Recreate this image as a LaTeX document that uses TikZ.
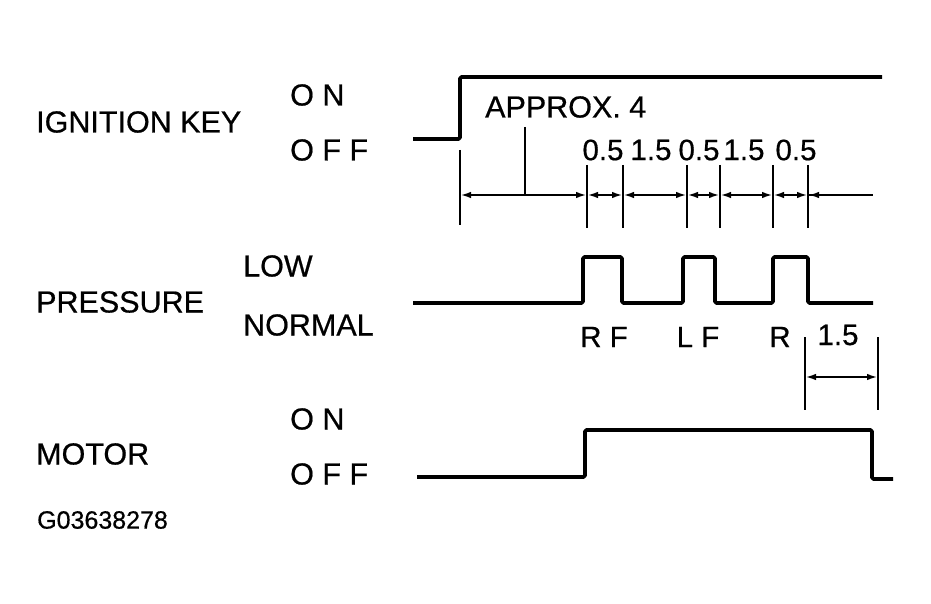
\documentclass[tikz,border=0pt]{standalone}
\usepackage{fontspec}
\setmainfont{Liberation Sans}[FakeBold=0.6]
\usetikzlibrary{arrows, arrows.meta}
\tikzset{wave/.style={line width=3.8pt, line join=round, rounded corners=1.5pt},
  dim/.style={line width=2.4pt, {Latex[length=11pt,width=6.5pt]}-{Latex[length=11pt,width=6.5pt]}},
  tick/.style={line width=2.6pt},
  lbl/.style={anchor=west, inner sep=0pt, font=\fontsize{30.5}{34}\selectfont},
  num/.style={inner sep=0pt, font=\fontsize{29.5}{32}\selectfont}}

\begin{document}
\begin{tikzpicture}[x=1pt, y=-1pt]
\useasboundingbox (0,0) rectangle (931,604);

\node[lbl] (ign) at (36,122) {IGNITION KEY};
\node[lbl] (ignon) at (290,95) {O N};
\node[lbl] (ignoff) at (290,150) {O F F};
\node[lbl] (pres) at (36,302) {PRESSURE};
\node[lbl] (low) at (243,266) {LOW};
\node[lbl] (norm) at (243,325) {NORMAL};
\node[lbl] (mot) at (36,454) {MOTOR};
\node[lbl] (moton) at (290,419) {O N};
\node[lbl] (motoff) at (290,474) {O F F};
\node[lbl, font=\fontsize{25}{28}\selectfont] (code) at (37,520) {G03638278};

\draw[wave] (413,139) -- (460,139) -- (460,77) -- (882,77);
\draw[wave] (413,303) -- (583,303) -- (583,257) -- (622,257) -- (622,303) -- (683,303) -- (683,257) -- (715,257) -- (715,303) -- (773,303) -- (773,257) -- (808,257) -- (808,303) -- (873,303);
\draw[wave] (417,477) -- (585,477) -- (585,430) -- (872,430) -- (872,479) -- (893,479);

\node[lbl] (approx) at (485,107) {APPROX. 4};
\coordinate (t0) at (460,195);
\coordinate (tend) at (873,195);
\draw[tick] (460,150) -- (460,225);
\foreach \x [count=\i] in {587,623,687,720,773,808} {
  \coordinate (t\i) at (\x,195);
  \draw[tick] (\x,165) -- (\x,228);
}
\coordinate (lead) at (525,127);
\draw[tick, line width=2pt] (lead) -- (lead |- t0);
\draw[dim] (t0) -- (t1);
\draw[dim] (t1) -- (t2);
\draw[dim] (t2) -- (t3);
\draw[dim] (t3) -- (t4);
\draw[dim] (t4) -- (t5);
\draw[dim] (t5) -- (t6);
\draw[dim, -] (t6) -- (tend);
\draw[dim, {Latex[length=11pt,width=6.5pt]}-] (t6) -- ++(30,0);

\node[num] (d1) at (603,150) {0.5};
\node[num] (d2) at (651,150) {1.5};
\node[num] (d3) at (699,150) {0.5};
\node[num] (d4) at (744,150) {1.5};
\node[num] (d5) at (796,150) {0.5};

\node[num] (rf) at (604,337) {R F};
\node[num] (lf) at (698,337) {L F};
\node[num] (r) at (780,337) {R};

\coordinate (m1) at (805,377);
\coordinate (m2) at (878,377);
\draw[tick] (805,337) -- (805,410);
\draw[tick] (878,337) -- (878,410);
\draw[dim] (m1) -- (m2);
\node[num] (d6) at (838,335) {1.5};
\end{tikzpicture}
\end{document}
